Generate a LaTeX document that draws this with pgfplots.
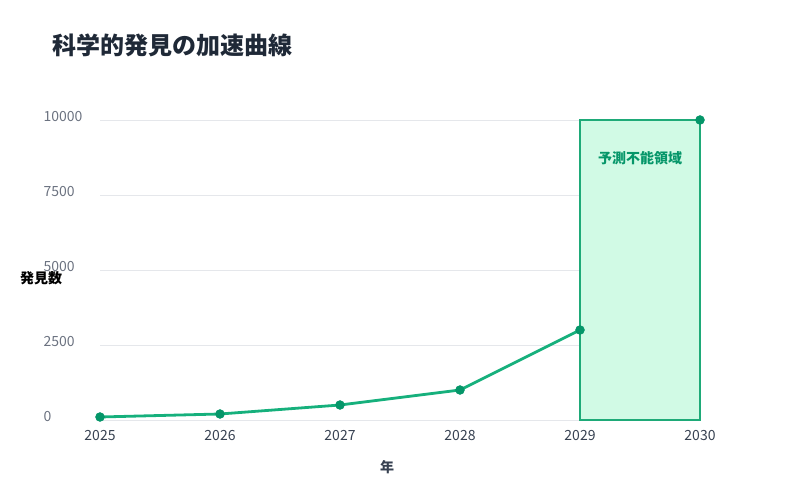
\documentclass[border=0pt]{standalone}
\usepackage{fontspec}
\setmainfont{Noto Sans CJK JP}
\usepackage{pgfplots}
\pgfplotsset{compat=1.18}

\definecolor{linegreen}{RGB}{22,176,124}
\definecolor{markgreen}{RGB}{5,150,105}
\definecolor{zonefill}{RGB}{209,250,229}
\definecolor{zonedraw}{RGB}{30,170,120}
\definecolor{gridgray}{RGB}{229,231,235}
\definecolor{ytickgray}{RGB}{107,114,128}
\definecolor{xtickdark}{RGB}{55,65,81}
\definecolor{titledark}{RGB}{31,41,55}

\begin{document}
\begin{tikzpicture}
\path[use as bounding box] (0pt,0pt) rectangle (800pt,500pt);
\begin{axis}[
  at={(100pt,80pt)}, anchor=south west,
  scale only axis, width=600pt, height=300pt,
  xmin=2025, xmax=2030, ymin=0, ymax=10000,
  axis line style={draw=none},
  xtick={2025,2026,2027,2028,2029,2030},
  ytick={0,2500,5000,7500,10000},
  scaled y ticks=false,
  ymajorgrids, grid style={gridgray, line width=0.8pt},
  major tick length=0pt,
  /pgf/number format/assume math mode=true,
  /pgf/number format/1000 sep={},
  xticklabel style={font=\fontsize{14}{16}\selectfont, text=xtickdark, yshift=-7pt},
  yticklabel style={font=\fontsize{14}{16}\selectfont, text=ytickgray, anchor=west, xshift=-60pt, yshift=3pt},
  clip=false,
]
\addplot[line width=2.8pt, linegreen, mark=*, mark size=4.5pt,
  mark options={fill=markgreen, draw=markgreen, line width=0.4pt}]
  coordinates {(2025,100) (2026,200) (2027,500) (2028,1000) (2029,3000) (2030,10000)};
\addplot[fill=zonefill, draw=zonedraw, line width=2pt]
  coordinates {(2029,0) (2029,10000) (2030,10000) (2030,0)} -- cycle;
\node[text=markgreen, font=\fontsize{14}{16}\selectfont\bfseries] at (axis cs:2029.5,8730) {予測不能領域};
\end{axis}
\node[anchor=west, text=titledark, font=\fontsize{24}{28}\selectfont\bfseries] at (49pt,455pt) {科学的発見の加速曲線};
\node[text=black, font=\fontsize{14}{16}\selectfont\bfseries] at (41pt,222pt) {発見数};
\node[text=xtickdark, font=\fontsize{14}{16}\selectfont\bfseries] at (387pt,33pt) {年};
\end{tikzpicture}
\end{document}
